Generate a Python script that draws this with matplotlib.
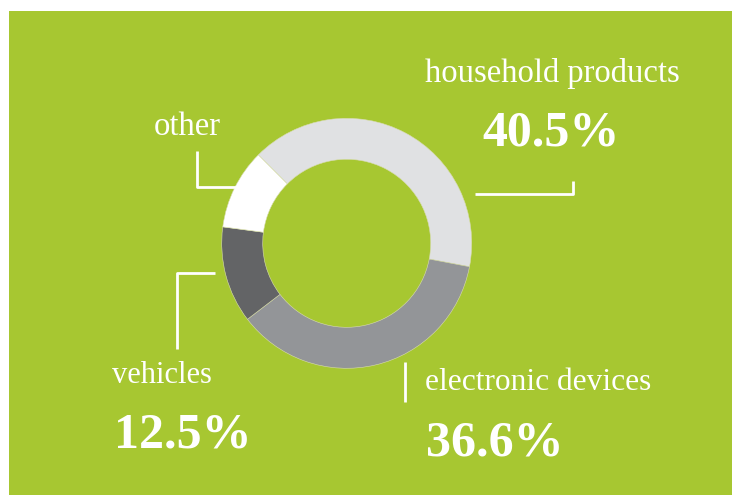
import matplotlib.pyplot as plt
from matplotlib.patches import Rectangle

# data
categories = ['household products', 'electronic devices', 'vehicles', 'other']
shares = [40.5, 36.6, 12.5, 10.4]
pct_labels = ['40.5%', '36.6%', '12.5%']
colors = ['#e0e1e3', '#939598', '#636466', '#ffffff']

W, H = 732, 495
GREEN = '#a7c731'

fig = plt.figure(figsize=(W / 100, H / 100), dpi=100)
fig.patch.set_facecolor('white')
ax = fig.add_axes([0, 0, 1, 1])

# green panel
ax.add_patch(Rectangle((9, 0), W - 9, H - 11, facecolor=GREEN, edgecolor='none', zorder=0))

cx, cy = 346.7, H - 243.3
ax.pie(shares, colors=colors, startangle=135, counterclock=False,
       radius=125, center=(cx, cy),
       wedgeprops=dict(width=41, linewidth=0.4, edgecolor='#d8dcb0'))

ax.set_xlim(0, W)
ax.set_ylim(0, H)
ax.set_aspect('equal')
ax.axis('off')

font = 'Liberation Serif'
pct_size = 36

def txt(x, y, s, size, weight='normal', ha='left'):
    ax.text(x, H - y, s, fontsize=size, fontweight=weight, family=font,
            color='white', ha=ha, va='baseline')

# household products
txt(552, 82, categories[0], 23.5, ha='center')
txt(551, 146, pct_labels[0], pct_size, weight='bold', ha='center')
# electronic devices
txt(425, 390, categories[1], 22.6)
txt(426, 455, pct_labels[1], pct_size, weight='bold')
# vehicles
txt(112, 383, categories[2], 22)
txt(114, 448, pct_labels[2], pct_size, weight='bold')
# other
txt(187, 135, categories[3], 23.5, ha='center')

# callout lines
lw = 2
def line(xs, ys):
    ax.plot(xs, [H - y for y in ys], color='white', lw=lw, solid_capstyle='butt')

line([196.7, 196.7, 236], [150.7, 187.3, 187.3])
line([475.3, 573.3, 573.3], [194.3, 194.3, 181])
line([215, 176.6, 176.6], [273.3, 273.3, 349])
line([405, 405], [361.7, 401.7])

fig.savefig('out.png', dpi=100)
